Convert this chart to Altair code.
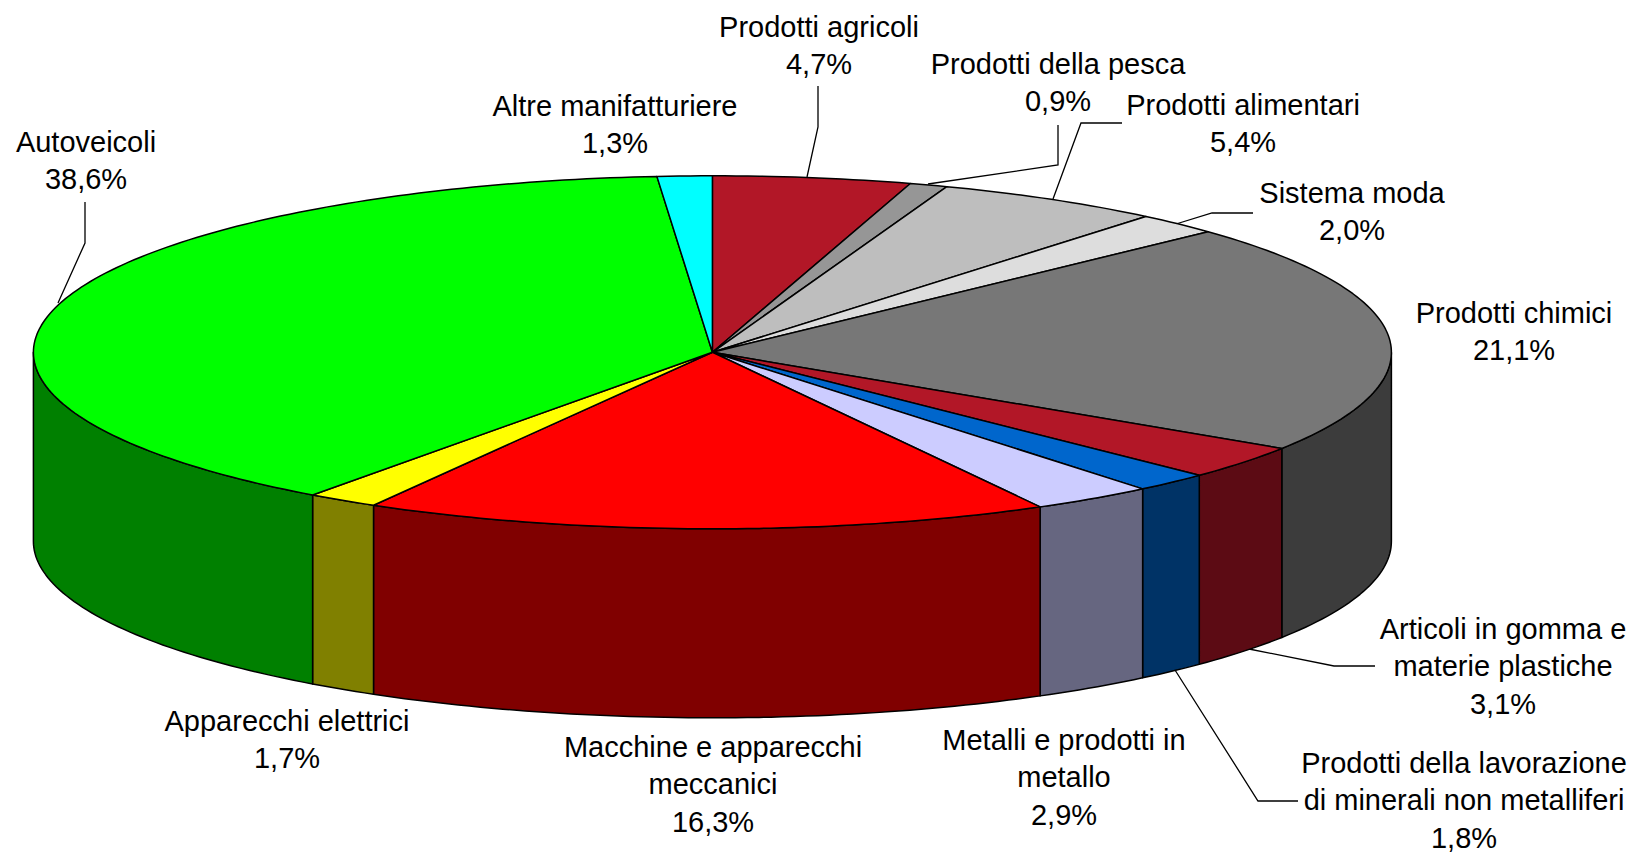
import math
import altair as alt
import pandas as pd

names = ["Prodotti agricoli", "Prodotti della pesca", "Prodotti alimentari", "Sistema moda",
         "Prodotti chimici", "Articoli in gomma e materie plastiche",
         "Prodotti della lavorazione di minerali non metalliferi", "Metalli e prodotti in metallo",
         "Macchine e apparecchi meccanici", "Apparecchi elettrici", "Autoveicoli", "Altre manifatturiere"]
shares = [4.7, 0.9, 5.4, 2.0, 21.1, 3.1, 1.8, 2.9, 16.3, 1.7, 38.6, 1.3]
top_colors = ["#B21727", "#969696", "#BEBEBE", "#DDDDDD", "#777777", "#B21727",
              "#0066CC", "#CCCCFF", "#FF0000", "#FFFF00", "#00FF00", "#00FFFF"]
wall_colors = ["#590C14", "#4B4B4B", "#5F5F5F", "#6E6E6E", "#3C3C3C", "#5C0B14",
               "#003366", "#666680", "#800000", "#808000", "#008000", "#008080"]

label_lines = [["Prodotti agricoli", "4,7%"], ["Prodotti della pesca", "0,9%"],
               ["Prodotti alimentari", "5,4%"], ["Sistema moda", "2,0%"],
               ["Prodotti chimici", "21,1%"], ["Articoli in gomma e", "materie plastiche", "3,1%"],
               ["Prodotti della lavorazione", "di minerali non metalliferi", "1,8%"],
               ["Metalli e prodotti in", "metallo", "2,9%"],
               ["Macchine e apparecchi", "meccanici", "16,3%"], ["Apparecchi elettrici", "1,7%"],
               ["Autoveicoli", "38,6%"], ["Altre manifatturiere", "1,3%"]]
label_x = [819, 1058, 1243, 1352, 1514, 1503, 1464, 1064, 713, 287, 86, 615]
label_y = [28, 65, 106, 194, 314, 630, 764, 741, 748, 722, 143, 107]
leader_x = [[818, 818, 807], [1058, 1058, 928], [1122, 1081, 1053], [1253, 1212, 1176],
            [1375, 1334, 1249], [1298, 1258, 1175], [85, 85, 58]]
leader_y = [[86, 127, 177], [125, 165, 184], [123, 123, 199], [213, 213, 224],
            [666, 666, 649], [801, 801, 670], [202, 243, 303]]

CX, CY, A, B, DEPTH = 712.4, 352.3, 679.0, 176.5, 189.0
LINE_H = 37.3
TOTAL = sum(shares)


def rim(deg, drop=0.0):
    t = math.radians(deg)
    return CX + A * math.sin(t), CY - B * math.cos(t) + drop


def arc_degs(a, b):
    n = max(2, int(math.ceil(b - a)) + 1)
    return [a + (b - a) * k / (n - 1) for k in range(n)]


top_rows, wall_rows = [], []
start = 0.0
for name, share, tc, wc in zip(names, shares, top_colors, wall_colors):
    end = start + share / TOTAL * 360.0
    pts = [(CX, CY)] + [rim(d) for d in arc_degs(start, end)] + [(CX, CY)]
    for i, (x, y) in enumerate(pts):
        top_rows.append({"name": name, "i": i, "x": x, "y": y, "c": tc})
    a, b = max(start, 90.0), min(end, 270.0)
    if a < b:
        ds = arc_degs(a, b)
        pts = [rim(d) for d in ds] + [rim(d, DEPTH) for d in reversed(ds)] + [rim(ds[0])]
        for i, (x, y) in enumerate(pts):
            wall_rows.append({"name": name, "i": i, "x": x, "y": y, "c": wc})
    start = end

text_rows = []
for lines, x, y in zip(label_lines, label_x, label_y):
    for k, line in enumerate(lines):
        text_rows.append({"t": line, "x": x, "y": y + k * LINE_H})

leader_rows = []
for j, (xs, ys) in enumerate(zip(leader_x, leader_y)):
    for i, (x, y) in enumerate(zip(xs, ys)):
        leader_rows.append({"k": j, "i": i, "x": x, "y": y})

X = alt.X("x:Q", scale=alt.Scale(domain=[8, 1627]), axis=None)
Y = alt.Y("y:Q", scale=alt.Scale(domain=[853, 8]), axis=None)


def polys(rows):
    return alt.Chart(pd.DataFrame(rows)).mark_line(strokeWidth=1.5, strokeJoin="round").encode(
        x=X, y=Y, detail="name:N", order="i:Q",
        fill=alt.Fill("c:N", scale=None), stroke=alt.value("#000000"))


walls = polys(wall_rows)
tops = polys(top_rows)
leaders = alt.Chart(pd.DataFrame(leader_rows)).mark_line(strokeWidth=1.3, color="#000000").encode(
    x=X, y=Y, detail="k:N", order="i:Q")
texts = alt.Chart(pd.DataFrame(text_rows)).mark_text(
    font="Liberation Sans", fontSize=29, color="#000000", align="center", baseline="middle"
).encode(x=X, y=Y, text="t:N")

chart = alt.layer(leaders, walls, tops, texts).properties(
    width=1619, height=845, padding=0, autosize=alt.AutoSizeParams(type="none")
).configure_view(stroke=None)

chart.save("out.html", embed_options={"renderer": "svg", "actions": False})
